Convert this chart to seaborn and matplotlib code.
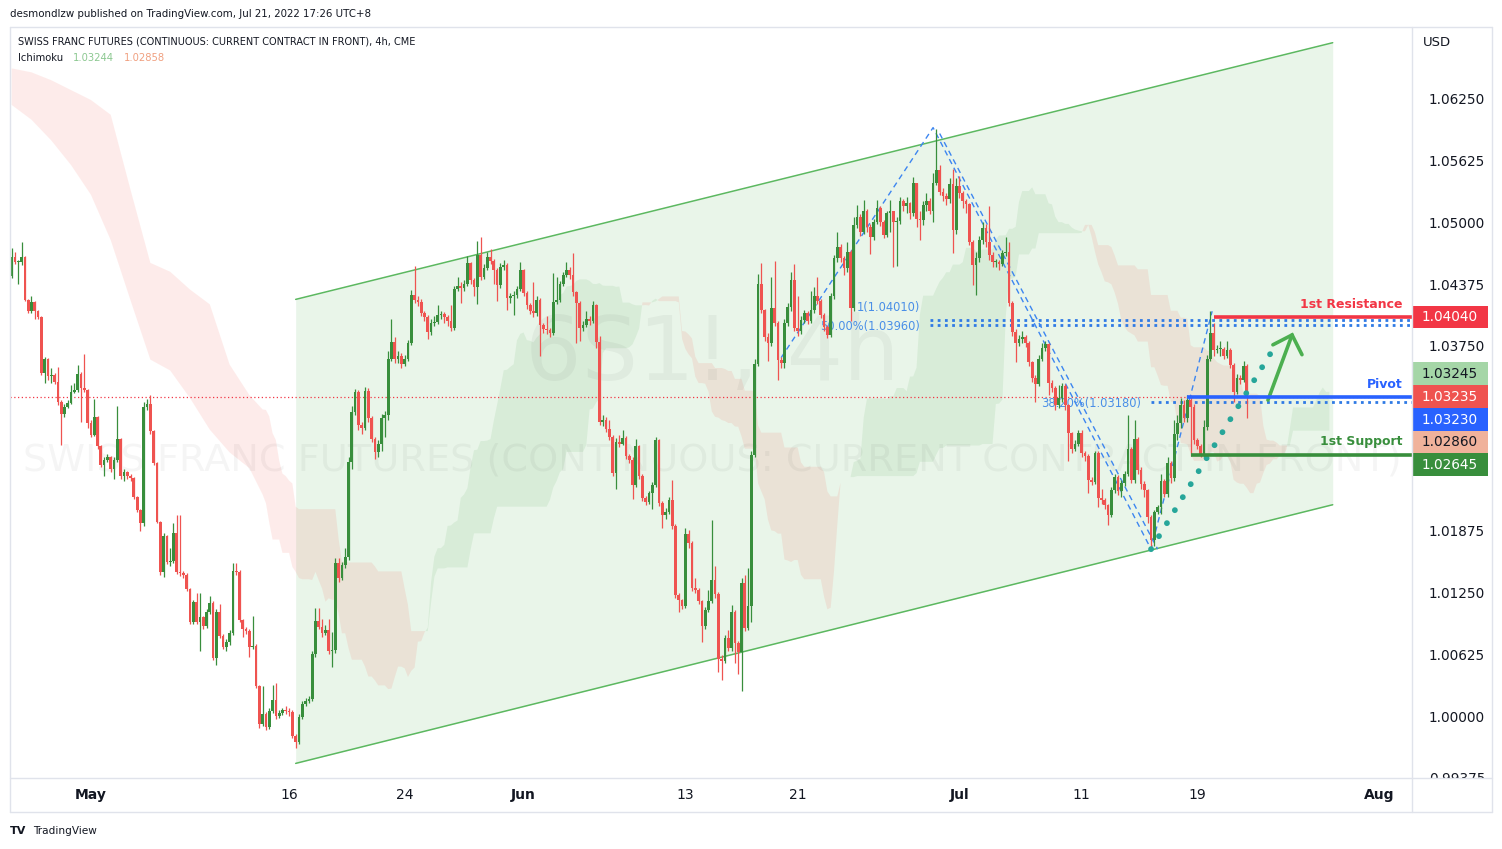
import numpy as np
import pandas as pd
import matplotlib
matplotlib.use("Agg")
import matplotlib.pyplot as plt
from matplotlib.patches import Rectangle
from matplotlib.transforms import IdentityTransform, blended_transform_factory, offset_copy
from matplotlib.lines import Line2D
import seaborn as sns

# ---------------- data (4h candles, Swiss franc futures) ----------------
first_open = 1.0446
closes = [
 1.0465,1.0460,1.0460,1.0465,1.0421,1.0410,1.0419,1.0410,1.0404,1.0347,
 1.0362,1.0344,1.0345,1.0338,1.0318,1.0306,1.0313,1.0317,1.0328,1.0330,
 1.0346,1.0332,1.0330,1.0297,1.0285,1.0303,1.0273,1.0254,1.0259,1.0262,
 1.0250,1.0259,1.0281,1.0243,1.0247,1.0243,1.0241,1.0222,1.0209,1.0195,
 1.0313,1.0316,1.0289,1.0256,1.0197,1.0146,1.0182,1.0156,1.0157,1.0185,
 1.0146,1.0145,1.0143,1.0129,1.0095,1.0115,1.0095,1.0100,1.0091,1.0105,
 1.0114,1.0059,1.0105,1.0081,1.0070,1.0075,1.0084,1.0147,1.0146,1.0097,
 1.0088,1.0086,1.0070,1.0071,1.0030,0.9992,1.0002,0.9989,1.0005,1.0016,
 1.0000,1.0003,1.0006,1.0005,1.0004,0.9980,0.9974,0.9999,1.0012,1.0015,
 1.0017,1.0063,1.0096,1.0090,1.0084,1.0087,1.0066,1.0067,1.0155,1.0140,
 1.0153,1.0161,1.0257,1.0308,1.0328,1.0295,1.0292,1.0329,1.0302,1.0281,
 1.0267,1.0276,1.0302,1.0305,1.0362,1.0379,1.0362,1.0365,1.0357,1.0362,
 1.0378,1.0426,1.0421,1.0419,1.0408,1.0404,1.0389,1.0398,1.0399,1.0406,
 1.0407,1.0404,1.0400,1.0393,1.0433,1.0436,1.0434,1.0438,1.0459,1.0442,
 1.0435,1.0467,1.0445,1.0454,1.0465,1.0461,1.0452,1.0437,1.0455,1.0457,
 1.0423,1.0425,1.0426,1.0433,1.0452,1.0428,1.0416,1.0410,1.0408,1.0421,
 1.0396,1.0392,1.0391,1.0388,1.0419,1.0421,1.0438,1.0447,1.0452,1.0447,
 1.0429,1.0418,1.0393,1.0396,1.0402,1.0400,1.0416,1.0379,1.0298,1.0300,
 1.0291,1.0283,1.0246,1.0278,1.0276,1.0282,1.0263,1.0259,1.0234,1.0273,
 1.0243,1.0221,1.0217,1.0226,1.0234,1.0280,1.0216,1.0204,1.0207,1.0219,
 1.0192,1.0123,1.0117,1.0111,1.0184,1.0175,1.0130,1.0128,1.0116,1.0091,
 1.0107,1.0116,1.0138,1.0124,1.0058,1.0056,1.0079,1.0069,1.0105,1.0074,
 1.0065,1.0135,1.0089,1.0111,1.0264,1.0357,1.0438,1.0411,1.0384,1.0378,
 1.0413,1.0398,1.0361,1.0358,1.0398,1.0414,1.0442,1.0393,1.0390,1.0401,
 1.0408,1.0400,1.0411,1.0425,1.0420,1.0406,1.0394,1.0386,1.0425,1.0464,
 1.0475,1.0464,1.0454,1.0470,1.0413,1.0497,1.0505,1.0490,1.0512,1.0495,
 1.0485,1.0500,1.0515,1.0500,1.0487,1.0510,1.0512,1.0500,1.0501,1.0522,
 1.0517,1.0520,1.0510,1.0540,1.0503,1.0502,1.0518,1.0522,1.0512,1.0540,
 1.0553,1.0531,1.0527,1.0524,1.0539,1.0492,1.0537,1.0530,1.0522,1.0519,
 1.0480,1.0457,1.0464,1.0482,1.0494,1.0480,1.0467,1.0460,1.0460,1.0458,
 1.0469,1.0470,1.0418,1.0389,1.0378,1.0382,1.0384,1.0378,1.0359,1.0342,
 1.0336,1.0362,1.0373,1.0377,1.0337,1.0332,1.0315,1.0322,1.0334,1.0315,
 1.0287,1.0270,1.0276,1.0287,1.0266,1.0263,1.0239,1.0237,1.0266,1.0221,
 1.0219,1.0214,1.0204,1.0229,1.0242,1.0228,1.0236,1.0245,1.0270,1.0239,
 1.0281,1.0249,1.0235,1.0229,1.0202,1.0178,1.0207,1.0212,1.0238,1.0225,
 1.0256,1.0241,1.0286,1.0297,1.0315,1.0302,1.0320,1.0313,1.0280,1.0274,
 1.0264,1.0293,1.0362,1.0388,1.0371,1.0372,1.0372,1.0365,1.0371,1.0356,
 1.0328,1.0342,1.0340,1.0355,1.03235]
highs = [
 1.0474,1.0470,1.0462,1.0480,1.0466,1.0422,1.0425,1.0420,1.0411,1.0405,
 1.0364,1.0363,1.0353,1.0347,1.0354,1.0320,1.0316,1.0320,1.0335,1.0337,
 1.0356,1.0348,1.0367,1.0331,1.0300,1.0321,1.0304,1.0275,1.0262,1.0265,
 1.0263,1.0262,1.0314,1.0282,1.0250,1.0248,1.0245,1.0242,1.0223,1.0210,
 1.0318,1.0321,1.0325,1.0290,1.0257,1.0198,1.0185,1.0183,1.0170,1.0195,
 1.0204,1.0204,1.0147,1.0145,1.0130,1.0118,1.0125,1.0125,1.0101,1.0108,
 1.0122,1.0116,1.0108,1.0113,1.0083,1.0078,1.0087,1.0155,1.0155,1.0148,
 1.0098,1.0090,1.0088,1.0101,1.0073,1.0031,1.0030,1.0004,1.0008,1.0031,
 1.0033,1.0006,1.0008,1.0010,1.0008,1.0006,0.9982,1.0002,1.0015,1.0018,
 1.0020,1.0066,1.0109,1.0109,1.0098,1.0092,1.0098,1.0085,1.0160,1.0160,
 1.0156,1.0170,1.0262,1.0314,1.0331,1.0330,1.0298,1.0333,1.0332,1.0304,
 1.0283,1.0280,1.0306,1.0309,1.0370,1.0402,1.0384,1.0370,1.0368,1.0366,
 1.0381,1.0432,1.0456,1.0425,1.0422,1.0410,1.0406,1.0402,1.0405,1.0416,
 1.0410,1.0409,1.0406,1.0416,1.0436,1.0445,1.0440,1.0442,1.0466,1.0460,
 1.0444,1.0481,1.0485,1.0458,1.0470,1.0473,1.0463,1.0454,1.0459,1.0462,
 1.0459,1.0428,1.0430,1.0436,1.0460,1.0453,1.0430,1.0418,1.0440,1.0425,
 1.0423,1.0398,1.0405,1.0393,1.0449,1.0445,1.0441,1.0450,1.0460,1.0455,
 1.0469,1.0430,1.0420,1.0400,1.0410,1.0405,1.0420,1.0417,1.0385,1.0305,
 1.0303,1.0300,1.0285,1.0282,1.0285,1.0290,1.0284,1.0265,1.0262,1.0281,
 1.0275,1.0245,1.0223,1.0228,1.0237,1.0283,1.0281,1.0218,1.0211,1.0222,
 1.0239,1.0194,1.0125,1.0119,1.0190,1.0188,1.0177,1.0140,1.0130,1.0118,
 1.0110,1.0128,1.0199,1.0152,1.0126,1.0062,1.0082,1.0087,1.0112,1.0107,
 1.0076,1.0140,1.0143,1.0150,1.0268,1.0362,1.0448,1.0459,1.0412,1.0388,
 1.0445,1.0461,1.0400,1.0364,1.0402,1.0418,1.0450,1.0458,1.0425,1.0405,
 1.0411,1.0410,1.0430,1.0435,1.0445,1.0422,1.0408,1.0396,1.0428,1.0467,
 1.0490,1.0478,1.0466,1.0480,1.0472,1.0505,1.0518,1.0508,1.0523,1.0514,
 1.0498,1.0503,1.0523,1.0517,1.0502,1.0512,1.0523,1.0512,1.0505,1.0526,
 1.0524,1.0526,1.0521,1.0546,1.0540,1.0512,1.0522,1.0530,1.0525,1.0550,
 1.0595,1.0558,1.0535,1.0530,1.0545,1.0554,1.0545,1.0547,1.0532,1.0524,
 1.0520,1.0482,1.0470,1.0486,1.0500,1.0498,1.0517,1.0470,1.0463,1.0462,
 1.0472,1.0485,1.0480,1.0420,1.0392,1.0386,1.0390,1.0386,1.0380,1.0360,
 1.0345,1.0366,1.0378,1.0380,1.0378,1.0340,1.0334,1.0335,1.0337,1.0336,
 1.0316,1.0288,1.0280,1.0290,1.0290,1.0268,1.0265,1.0242,1.0268,1.0268,
 1.0230,1.0221,1.0215,1.0232,1.0245,1.0244,1.0239,1.0248,1.0305,1.0272,
 1.0300,1.0283,1.0252,1.0238,1.0230,1.0204,1.0209,1.0214,1.0245,1.0240,
 1.0262,1.0258,1.0300,1.0305,1.0322,1.0320,1.0325,1.0325,1.0316,1.0282,
 1.0276,1.0300,1.0366,1.0410,1.0398,1.0376,1.0380,1.0374,1.0380,1.0373,
 1.0358,1.0346,1.0345,1.0360,1.0357]
lows = [
 1.0444,1.0458,1.0438,1.0457,1.0420,1.0408,1.0408,1.0402,1.0402,1.0345,
 1.0337,1.0340,1.0337,1.0336,1.0315,1.0275,1.0303,1.0312,1.0316,1.0327,
 1.0328,1.0298,1.0328,1.0292,1.0283,1.0284,1.0270,1.0252,1.0243,1.0257,
 1.0247,1.0240,1.0257,1.0240,1.0238,1.0240,1.0238,1.0220,1.0207,1.0187,
 1.0192,1.0310,1.0286,1.0254,1.0195,1.0143,1.0141,1.0154,1.0152,1.0155,
 1.0144,1.0142,1.0140,1.0127,1.0093,1.0093,1.0093,1.0066,1.0088,1.0089,
 1.0103,1.0057,1.0052,1.0079,1.0068,1.0066,1.0072,1.0082,1.0143,1.0095,
 1.0080,1.0083,1.0060,1.0068,1.0028,0.9988,0.9990,0.9986,0.9987,1.0003,
 0.9997,0.9998,1.0001,1.0002,1.0000,0.9978,0.9968,0.9972,0.9997,1.0010,
 1.0013,1.0015,1.0060,1.0088,1.0080,1.0082,1.0063,1.0050,1.0064,1.0136,
 1.0138,1.0150,1.0158,1.0250,1.0305,1.0290,1.0286,1.0290,1.0298,1.0278,
 1.0260,1.0262,1.0268,1.0283,1.0300,1.0360,1.0358,1.0358,1.0353,1.0355,
 1.0360,1.0376,1.0418,1.0415,1.0405,1.0400,1.0382,1.0386,1.0395,1.0397,
 1.0402,1.0398,1.0395,1.0390,1.0391,1.0430,1.0418,1.0430,1.0436,1.0438,
 1.0425,1.0417,1.0442,1.0443,1.0452,1.0458,1.0438,1.0420,1.0434,1.0452,
 1.0411,1.0418,1.0406,1.0423,1.0430,1.0425,1.0412,1.0407,1.0404,1.0405,
 1.0365,1.0388,1.0387,1.0384,1.0386,1.0417,1.0419,1.0436,1.0445,1.0443,
 1.0425,1.0378,1.0380,1.0390,1.0394,1.0396,1.0398,1.0373,1.0295,1.0294,
 1.0288,1.0280,1.0243,1.0230,1.0272,1.0275,1.0260,1.0256,1.0220,1.0232,
 1.0240,1.0218,1.0214,1.0215,1.0210,1.0232,1.0213,1.0190,1.0200,1.0205,
 1.0189,1.0120,1.0105,1.0108,1.0109,1.0170,1.0127,1.0125,1.0113,1.0075,
 1.0088,1.0105,1.0114,1.0120,1.0045,1.0036,1.0054,1.0066,1.0066,1.0054,
 1.0043,1.0025,1.0086,1.0087,1.0095,1.0262,1.0355,1.0408,1.0380,1.0360,
 1.0375,1.0395,1.0340,1.0352,1.0352,1.0395,1.0410,1.0390,1.0385,1.0387,
 1.0398,1.0397,1.0398,1.0408,1.0417,1.0403,1.0390,1.0383,1.0384,1.0422,
 1.0460,1.0460,1.0447,1.0450,1.0400,1.0410,1.0494,1.0486,1.0488,1.0490,
 1.0468,1.0482,1.0498,1.0496,1.0484,1.0485,1.0490,1.0455,1.0456,1.0498,
 1.0512,1.0510,1.0503,1.0506,1.0495,1.0482,1.0497,1.0512,1.0508,1.0500,
 1.0538,1.0528,1.0522,1.0518,1.0520,1.0469,1.0488,1.0525,1.0515,1.0510,
 1.0477,1.0437,1.0426,1.0460,1.0478,1.0475,1.0462,1.0455,1.0455,1.0452,
 1.0456,1.0466,1.0415,1.0385,1.0359,1.0375,1.0378,1.0374,1.0355,1.0338,
 1.0318,1.0334,1.0360,1.0370,1.0325,1.0328,1.0310,1.0312,1.0318,1.0310,
 1.0258,1.0266,1.0268,1.0274,1.0262,1.0258,1.0226,1.0234,1.0235,1.0212,
 1.0215,1.0210,1.0193,1.0202,1.0226,1.0224,1.0222,1.0233,1.0243,1.0236,
 1.0236,1.0245,1.0230,1.0222,1.0196,1.0168,1.0172,1.0205,1.0205,1.0222,
 1.0222,1.0236,1.0238,1.0280,1.0292,1.0298,1.0298,1.0263,1.0276,1.0270,
 1.0262,1.0262,1.0290,1.0360,1.0365,1.0368,1.0365,1.0362,1.0363,1.0352,
 1.0318,1.0326,1.0336,1.0338,1.0302]

# Ichimoku cloud before the visible history is long enough
early_cloud_bars = [0, 6, 12, 18, 24, 30, 36, 42, 48, 54, 60, 66, 72]
early_span_a = [1.0619, 1.0604, 1.0583, 1.0558, 1.0528, 1.0482, 1.0421, 1.0361,
                1.0350, 1.0322, 1.0290, 1.0267, 1.0251]
early_span_b = [1.0656, 1.0652, 1.0644, 1.0634, 1.0624, 1.0609, 1.0533, 1.0459,
                1.0450, 1.0432, 1.0417, 1.0356, 1.0325]
ichimoku_periods = (9, 26, 52)
ichimoku_shift = 25

# axis labels
price_ticks = [0.99375, 1.0, 1.00625, 1.0125, 1.01875, 1.0375,
               1.04375, 1.05, 1.05625, 1.0625]
date_labels = ["May", "16", "24", "Jun", "13", "21", "Jul", "11", "19", "Aug"]
date_bars = [24, 84, 119, 155, 204, 238, 287, 324, 359, 414]
month_labels = {"May", "Jun", "Jul", "Aug"}

# drawings (bar index, price)
channel_bars = [86, 400]
channel_upper = [1.0422, 1.0682]
channel_lower = [0.9952, 1.0214]
abc_bars = [233, 279, 345, 363.5]
abc_prices = [1.0363, 1.0596, 1.0169, 1.0410]
bc2_bars = [281, 347]
bc2_prices = [1.0590, 1.0169]
fib_levels = [1.0401, 1.0396, 1.0318]
fib_texts = ["1(1.04010)", "50.00%(1.03960)", "38.20%(1.03180)"]
fib_start = [278, 278, 345]
path_bars = [345, 381.5]
path_prices = [1.0169, 1.0369]
arrow_bars = [380.4, 387.7, 381.9, 390.7]
arrow_prices = [1.0320, 1.0386, 1.0376, 1.0366]
resistance, pivot, support = 1.0404, 1.0323, 1.02645
res_start, piv_start, sup_start = 364, 356, 357
last_price = 1.03235
tag_values = ["1.03245", "1.03235", "1.03230", "1.02860", "1.02645"]

# ---------------- styling ----------------
sns.set_theme(style="white")
plt.rcParams['font.family'] = ['DejaVu Sans']

GREEN = '#388e3c'
RED = '#ef5350'
BLUE = '#2962ff'
FIBBLUE = '#4a8fe7'
TXT = '#131722'

W, H = 1502, 849
fig = plt.figure(figsize=(W / 100, H / 100), dpi=100)
fig.patch.set_facecolor('white')

PL, PR, PT, PB = 10, 1412, 28, 778
BAR_PX = 3.3026
ax = fig.add_axes([PL / W, 1 - PB / H, (PR - PL) / W, (PB - PT) / H])
ax.set_facecolor('white')
ax.set_xlim(-0.5, -0.5 + (PR - PL) / BAR_PX)
ax.set_ylim(0.99372, 1.06969)
for s in ax.spines.values():
    s.set_visible(False)
ax.set_xticks([])
ax.yaxis.tick_right()
ax.set_yticks(price_ticks)
ax.set_yticklabels([f"{t:.5f}" for t in price_ticks])
ax.tick_params(axis='y', length=0, pad=12, labelsize=9.8, labelcolor=TXT)
ax.grid(False)

# channel
ax.fill_between(channel_bars, channel_lower, channel_upper,
                color=(76/255, 175/255, 80/255), alpha=0.12, lw=0, zorder=1)
sns.lineplot(x=channel_bars, y=channel_upper, ax=ax, color='#5cb860', lw=1.1, zorder=4)
sns.lineplot(x=channel_bars, y=channel_lower, ax=ax, color='#5cb860', lw=1.1, zorder=4)

# ichimoku cloud (leading spans from the candles, displaced forward)
n = len(closes)
hi = pd.Series(highs)
lo = pd.Series(lows)
p1, p2, p3 = ichimoku_periods
conv = (hi.rolling(p1).max() + lo.rolling(p1).min()) / 2
base = (hi.rolling(p2).max() + lo.rolling(p2).min()) / 2
lead_a = ((conv + base) / 2).to_numpy()
lead_b = ((hi.rolling(p3).max() + lo.rolling(p3).min()) / 2).to_numpy()
lead_x = np.arange(n) + ichimoku_shift
ok = ~np.isnan(lead_b)
cx = np.r_[early_cloud_bars, lead_x[ok]]
a = np.r_[early_span_a, lead_a[ok]]
b = np.r_[early_span_b, lead_b[ok]]
ax.fill_between(cx, a, b, where=a >= b, interpolate=True,
                color=(67/255, 160/255, 71/255), alpha=0.10, lw=0, zorder=2)
ax.fill_between(cx, a, b, where=a < b, interpolate=True,
                color=(244/255, 67/255, 54/255), alpha=0.10, lw=0, zorder=2)

# watermark
ax.text(0.5007, 0.564, "6S1!, 4h", transform=ax.transAxes, ha='center', va='center',
        fontsize=64, color='black', alpha=0.04, zorder=3)
ax.text(0.5007, 0.424, "SWISS FRANC FUTURES (CONTINUOUS: CURRENT CONTRACT IN FRONT)",
        transform=ax.transAxes, ha='center', va='center', fontsize=27.5,
        color='black', alpha=0.04, zorder=3)

# candles
opens = [first_open] + closes[:-1]
df = pd.DataFrame({"x": np.arange(n), "open": opens, "close": closes,
                   "high": highs, "low": lows})
colors = np.where(df["close"] >= df["open"], GREEN, RED)
ax.vlines(df["x"], df["low"], df["high"], colors=colors, lw=0.9, zorder=7)
body_bottom = np.minimum(df["open"], df["close"])
body_h = np.maximum(np.abs(df["close"] - df["open"]), 0.00008)
ax.bar(df["x"], body_h, bottom=body_bottom, width=0.82, color=colors, lw=0, zorder=8)

# last price line
ax.axhline(last_price, color='#f23645', ls=(0, (1, 2)), lw=0.9, zorder=5)

# fib levels
xr = ax.get_xlim()[1]
for lvl, xs in zip(fib_levels, fib_start):
    ax.plot([xs, xr], [lvl, lvl], color='#2f7ae5', ls=(0, (1, 1.6)), lw=2.0,
            solid_capstyle='butt', zorder=6)
tr_up = offset_copy(ax.transData, fig=fig, x=-3, y=6, units='dots')
tr_c = offset_copy(ax.transData, fig=fig, x=-3, y=-1, units='dots')
ax.text(fib_start[0] - 2, fib_levels[0], fib_texts[0], transform=tr_up, ha='right',
        va='bottom', fontsize=8.3, color=FIBBLUE, zorder=6)
ax.text(fib_start[1] - 2, fib_levels[1], fib_texts[1], transform=tr_c, ha='right',
        va='center', fontsize=8.3, color=FIBBLUE, zorder=6)
ax.text(fib_start[2] - 2, fib_levels[2], fib_texts[2], transform=tr_c, ha='right',
        va='center', fontsize=8.3, color=FIBBLUE, zorder=6)

# ABC dashed legs
ax.plot(abc_bars, abc_prices, color='#3d86f0', ls=(0, (4, 3)), lw=1.0, zorder=6)
ax.plot(bc2_bars, bc2_prices, color='#3d86f0', ls=(0, (4, 3)), lw=1.0, zorder=6)

# projected path and arrow
sns.lineplot(x=path_bars, y=path_prices, ax=ax, color='#26a69a', lw=4.2,
             ls=(0, (0.01, 2.6)), dash_capstyle='round', zorder=9)
ax.plot(arrow_bars[:2], arrow_prices[:2], color='#4caf50', lw=2.6,
        solid_capstyle='round', zorder=9)
ax.plot([arrow_bars[2], arrow_bars[1], arrow_bars[3]],
        [arrow_prices[2], arrow_prices[1], arrow_prices[3]], color='#4caf50',
        lw=2.6, solid_capstyle='round', solid_joinstyle='miter', zorder=9)

# key levels
ax.plot([res_start, xr], [resistance, resistance], color='#f23645', lw=2.6, zorder=9,
        solid_capstyle='butt')
ax.plot([piv_start, xr], [pivot, pivot], color=BLUE, lw=2.6, zorder=9,
        solid_capstyle='butt')
ax.plot([sup_start, xr], [support, support], color=GREEN, lw=2.6, zorder=9,
        solid_capstyle='butt')
lab_tr = blended_transform_factory(ax.transAxes, ax.transData)
lab_tr = offset_copy(lab_tr, fig=fig, x=0, y=13, units='dots')
xlab = (1403 - PL) / (PR - PL)
ax.text(xlab, resistance, "1st Resistance", transform=lab_tr, ha='right', va='center',
        fontsize=9, fontweight='bold', color='#f23645', zorder=9)
ax.text(xlab, pivot, "Pivot", transform=lab_tr, ha='right', va='center',
        fontsize=9, fontweight='bold', color=BLUE, zorder=9)
ax.text(xlab, support, "1st Support", transform=lab_tr, ha='right', va='center',
        fontsize=9, fontweight='bold', color=GREEN, zorder=9)

# ---------------- time axis ----------------
ax2 = fig.add_axes([PL / W, 1 - 812 / H, (1492 - PL) / W, 34 / H])
ax2.set_facecolor('white')
ax2.set_xlim(-0.5, -0.5 + (1492 - PL) / BAR_PX)
ax2.set_ylim(0, 1)
ax2.set_xticks([])
ax2.set_yticks([])
for s in ax2.spines.values():
    s.set_visible(False)
ax2.set_zorder(5)
for lab, bx in zip(date_labels, date_bars):
    ax2.text(bx, 0.5, lab, ha='center', va='center', fontsize=10,
             fontweight='bold' if lab in month_labels else 'normal', color=TXT)

# ---------------- price tags ----------------
def ypix(price):
    return ax.transData.transform((0, price))[1]

def tag(yp, bg, fg, text):
    fig.add_artist(Rectangle((PR + 0.5, yp - 11.2), 75, 22.4, transform=IdentityTransform(),
                             facecolor=bg, edgecolor='none', zorder=20))
    fig.text((PR + 38) / W, yp / H, text, ha='center', va='center', color=fg,
             fontsize=9.8, zorder=21)

tag(ypix(resistance), '#f23645', 'white', "1.04040")
anchor = ypix(last_price)
tag_style = [('#a5d6a7', TXT), ('#ef5350', 'white'), (BLUE, 'white'),
             ('#f0b29b', TXT), (GREEN, 'white')]
tag_offsets = [23, 0, -23, -45.5, -68]
for val, (bg, fg), off in zip(tag_values, tag_style, tag_offsets):
    tag(anchor + off, bg, fg, val)

# ---------------- frame and header ----------------
def fl(x0, y0, x1, y1):
    fig.add_artist(Line2D([x0 / W, x1 / W], [1 - y0 / H, 1 - y1 / H], color='#e0e3eb',
                          lw=1, zorder=30))

fl(10, 27, 1492, 27)
fl(10, 812, 1492, 812)
fl(10, 27, 10, 812)
fl(1492, 27, 1492, 812)
fl(PR, 27, PR, 812)
fl(10, 778, 1492, 778)

fig.text(10 / W, 1 - 14 / H, "desmondlzw published on TradingView.com, Jul 21, 2022 17:26 UTC+8",
         fontsize=7.4, color=TXT, va='center', ha='left')
fig.text(18 / W, 1 - 42 / H, "SWISS FRANC FUTURES (CONTINUOUS: CURRENT CONTRACT IN FRONT), 4h, CME",
         fontsize=7.0, color=TXT, va='center', ha='left', zorder=25)
fig.text(18 / W, 1 - 58 / H, "Ichimoku", fontsize=7.2, color=TXT, va='center', zorder=25)
fig.text(73 / W, 1 - 58 / H, "1.03244", fontsize=7.2, color='#8cc891', va='center', zorder=25)
fig.text(124 / W, 1 - 58 / H, "1.02858", fontsize=7.2, color='#f0a080', va='center', zorder=25)
fig.text(1423 / W, 1 - 42 / H, "USD", fontsize=9.5, color=TXT, va='center', zorder=25)
fig.text(10 / W, 1 - 831 / H, "TV", fontsize=8, fontweight='heavy', color=TXT, va='center')
fig.text(33 / W, 1 - 831 / H, "TradingView", fontsize=7.6, color=TXT, va='center')

fig.savefig("out.png", dpi=100, facecolor='white')
